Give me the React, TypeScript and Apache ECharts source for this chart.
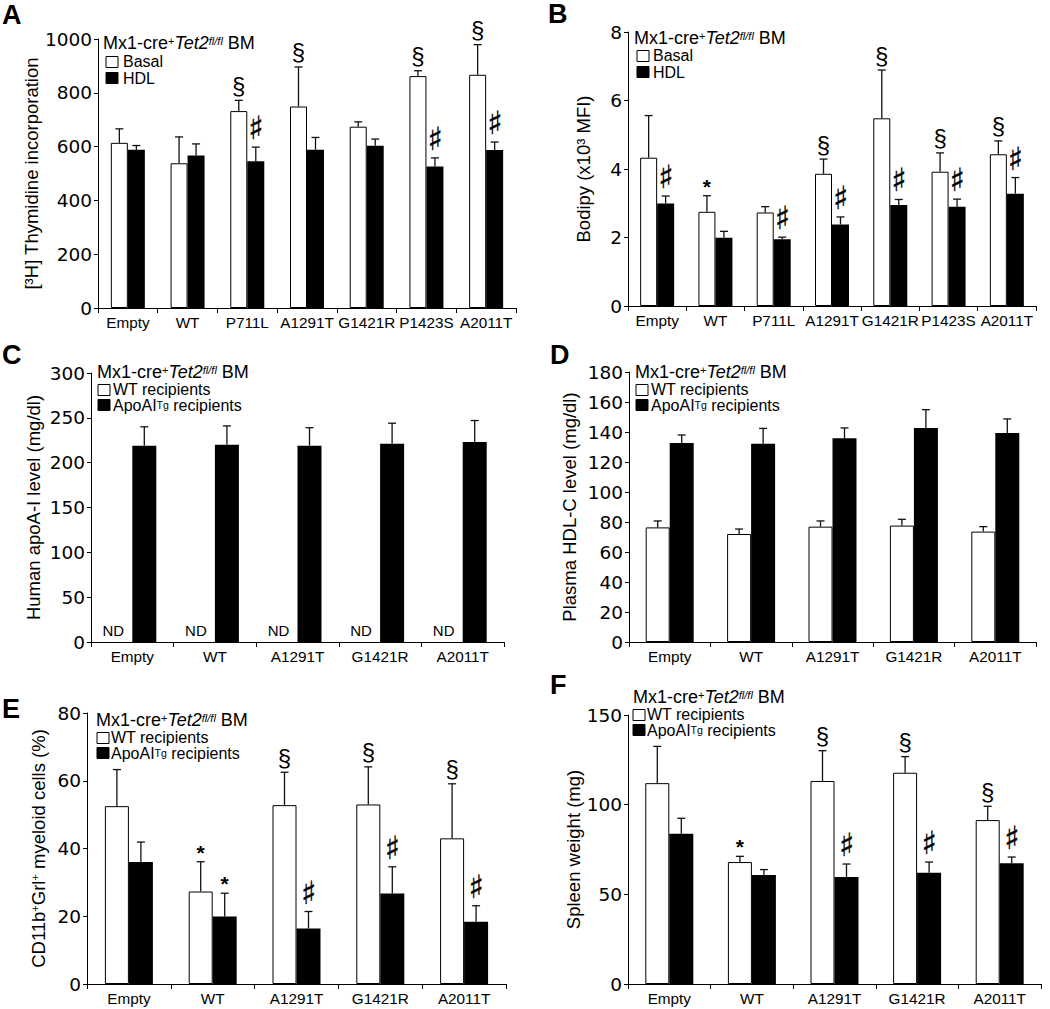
import React, { useEffect, useRef } from "react";
import * as echarts from "echarts";

// ---------- DATA ----------
const catsA = ["Empty", "WT", "P711L", "A1291T", "G1421R", "P1423S", "A2011T"];
const basalA = [614, 538, 732, 749, 674, 862, 867];
const basalSemA = [52, 98, 40, 147, 18, 20, 112];
const hdlA = [588, 567, 546, 588, 603, 526, 587];
const hdlSemA = [16, 43, 52, 46, 25, 32, 30];
const basalMarkA = ["", "", "§", "§", "", "§", "§"];
const hdlMarkA = ["", "", "♯", "", "", "♯", "♯"];

const catsB = ["Empty", "WT", "P711L", "A1291T", "G1421R", "P1423S", "A2011T"];
const basalB = [4.33, 2.75, 2.73, 3.86, 5.48, 3.92, 4.43];
const basalSemB = [1.23, 0.47, 0.17, 0.43, 1.41, 0.55, 0.39];
const hdlB = [2.99, 1.99, 1.95, 2.38, 2.95, 2.9, 3.28];
const hdlSemB = [0.22, 0.19, 0.06, 0.22, 0.16, 0.22, 0.47];
const basalMarkB = ["", "*", "", "§", "§", "§", "§"];
const hdlMarkB = ["♯", "", "♯", "♯", "♯", "♯", "♯"];

const cats5 = ["Empty", "WT", "A1291T", "G1421R", "A2011T"];

const wtC = [0, 0, 0, 0, 0]; // not detected (ND)
const apoC = [219, 220, 219, 221, 223];
const apoSemC = [21, 21, 20, 23, 24];

const wtD = [76.4, 72, 76.9, 77.6, 73.6];
const wtSemD = [4.3, 3.3, 3.8, 4.2, 3.3];
const apoD = [132.7, 132.2, 135.8, 142.7, 139.3];
const apoSemD = [5.3, 10.2, 6.9, 12.2, 9.4];

const wtE = [52.5, 27.3, 52.8, 53, 43];
const wtSemE = [10.8, 8.8, 9.7, 11.1, 16.1];
const apoE = [36, 19.9, 16.4, 26.7, 18.4];
const apoSemE = [5.9, 6.9, 5, 7.9, 4.7];
const wtMarkE = ["", "*", "§", "§", "§"];
const apoMarkE = ["", "*", "♯", "♯", "♯"];

const wtF = [112, 68, 113.2, 117.8, 91.4];
const wtSemF = [20.5, 3.2, 16.9, 9, 7.7];
const apoF = [83.8, 60.8, 59.7, 62.1, 67.3];
const apoSemF = [8.6, 3, 7.2, 5.9, 3.5];
const wtMarkF = ["", "*", "§", "§", "§"];
const apoMarkF = ["", "", "♯", "♯", "♯"];

const yMaxA = 1000, yStepA = 200;
const yMaxB = 8, yStepB = 2;
const yMaxC = 300, yStepC = 50;
const yMaxD = 180, yStepD = 20;
const yMaxE = 80, yStepE = 20;
const yMaxF = 150, yStepF = 50;

// ---------- STYLE ----------
const FF = "'Liberation Sans', Arial, Helvetica, sans-serif";
const FD = "'DejaVu Sans', sans-serif";

const markFont: Record<string, any> = {
  "§": { fontSize: 24, fontFamily: FF, fontWeight: "normal", gap: 3 },
  "♯": { fontSize: 32, fontFamily: "'DejaVu Sans'", fontWeight: "normal", gap: 3 },
  "*": { fontSize: 21, fontFamily: FF, fontWeight: "bold", gap: -1 },
};

type S = { vals: number[]; sem?: number[]; marks?: string[]; fill: string; nd?: boolean };
type P = {
  grid: any; cats: string[]; yMax: number; yStep: number; name: string;
  nameGap: number; barW: number; series: S[];
};

const panels: P[] = [
  {
    grid: { left: 98, top: 39, width: 418, height: 269 }, cats: catsA, yMax: yMaxA, yStep: yStepA,
    name: "[³H] Thymidine incorporation", nameGap: 55, barW: 17,
    series: [
      { vals: basalA, sem: basalSemA, marks: basalMarkA, fill: "#fff" },
      { vals: hdlA, sem: hdlSemA, marks: hdlMarkA, fill: "#000" },
    ],
  },
  {
    grid: { left: 628, top: 32, width: 408, height: 274 }, cats: catsB, yMax: yMaxB, yStep: yStepB,
    name: "Bodipy (x10³ MFI)", nameGap: 35, barW: 17,
    series: [
      { vals: basalB, sem: basalSemB, marks: basalMarkB, fill: "#fff" },
      { vals: hdlB, sem: hdlSemB, marks: hdlMarkB, fill: "#000" },
    ],
  },
  {
    grid: { left: 91, top: 373, width: 413, height: 269 }, cats: cats5, yMax: yMaxC, yStep: yStepC,
    name: "Human apoA-I level (mg/dl)", nameGap: 48, barW: 24,
    series: [
      { vals: wtC, fill: "#fff", nd: true },
      { vals: apoC, sem: apoSemC, fill: "#000" },
    ],
  },
  {
    grid: { left: 629, top: 372, width: 407, height: 270 }, cats: cats5, yMax: yMaxD, yStep: yStepD,
    name: "Plasma HDL-C level (mg/dl)", nameGap: 50, barW: 24,
    series: [
      { vals: wtD, sem: wtSemD, fill: "#fff" },
      { vals: apoD, sem: apoSemD, fill: "#000" },
    ],
  },
  {
    grid: { left: 87, top: 713, width: 419, height: 271 }, cats: cats5, yMax: yMaxE, yStep: yStepE,
    name: "{a|CD11b}{s|+}{a|Grl}{s|+}{a| myeloid cells (%)}", nameGap: 39, barW: 24,
    series: [
      { vals: wtE, sem: wtSemE, marks: wtMarkE, fill: "#fff" },
      { vals: apoE, sem: apoSemE, marks: apoMarkE, fill: "#000" },
    ],
  },
  {
    grid: { left: 628, top: 715, width: 413, height: 269 }, cats: cats5, yMax: yMaxF, yStep: yStepF,
    name: "Spleen weight (mg)", nameGap: 45, barW: 24,
    series: [
      { vals: wtF, sem: wtSemF, marks: wtMarkF, fill: "#fff" },
      { vals: apoF, sem: apoSemF, marks: apoMarkF, fill: "#000" },
    ],
  },
];

function errorSeries(gi: number, s: S, off: number) {
  const sem = s.sem as number[];
  return {
    type: "custom",
    xAxisIndex: gi,
    yAxisIndex: gi,
    z: 5,
    clip: false,
    silent: true,
    data: s.vals.map((v, i) => [i, v, v + sem[i]]),
    encode: { x: 0, y: [1, 2] },
    renderItem: (params: any, api: any) => {
      const i = api.value(0);
      const v = api.value(1);
      const t = api.value(2);
      const pb = api.coord([i, v]);
      const pt = api.coord([i, t]);
      const x = pb[0] + off;
      const ls = { stroke: "#111", lineWidth: 1.3 };
      const children: any[] = [
        { type: "line", shape: { x1: x, y1: pb[1], x2: x, y2: pt[1] }, style: ls },
        { type: "line", shape: { x1: x - 4, y1: pt[1], x2: x + 4, y2: pt[1] }, style: ls },
      ];
      const m = s.marks ? s.marks[params.dataIndex] : "";
      if (m) {
        const mf = markFont[m];
        const st: any = {
          text: m,
          fontSize: mf.fontSize, fontFamily: mf.fontFamily, fontWeight: mf.fontWeight,
          fill: "#000", align: "center", verticalAlign: "bottom",
        };
        if (m === "♯") { st.stroke = "#000"; st.lineWidth = 0.4; }
        children.push({ type: "text", x, y: pt[1] - mf.gap, style: st });
      }
      return { type: "group", children };
    },
  };
}

const titleRich = {
  a: { fontSize: 18, lineHeight: 16, fontFamily: FF, fill: "#000", color: "#000" },
  i: { fontSize: 18, lineHeight: 16, fontFamily: FF, fontStyle: "italic", fill: "#000", color: "#000" },
  s: { fontSize: 11, lineHeight: 16, fontFamily: FF, verticalAlign: "top", fill: "#000", color: "#000" },
  si: { fontSize: 11, lineHeight: 16, fontFamily: FF, fontStyle: "italic", verticalAlign: "top", fill: "#000", color: "#000" },
};
const labRich = {
  a: { fontSize: 16, lineHeight: 13, fontFamily: FF, fill: "#000", color: "#000" },
  s: { fontSize: 10.5, lineHeight: 4, fontFamily: FF, verticalAlign: "top", fill: "#000", color: "#000" },
};

const TITLE = "{a|Mx1-cre}{s|+}{i|Tet2}{si|fl/fl}{a| BM}";

function legend(x: number, yt: number, sx: number, y1: number, y2: number, lx: number, l1: string, l2: string) {
  return [
    { type: "text", x, y: yt, style: { text: TITLE, rich: titleRich, verticalAlign: "middle", fill: "#000" } },
    { type: "rect", shape: { x: sx, y: y1 - 5.5, width: 12, height: 11 }, style: { fill: "#fff", stroke: "#000", lineWidth: 1 } },
    { type: "rect", shape: { x: sx, y: y2 - 5.5, width: 12, height: 11 }, style: { fill: "#000", stroke: "#000", lineWidth: 1 } },
    { type: "text", x: lx, y: y1 - 0.5, style: { text: l1, rich: labRich, verticalAlign: "middle", fill: "#000" } },
    { type: "text", x: lx, y: y2 + 0.5, style: { text: l2, rich: labRich, verticalAlign: "middle", fill: "#000" } },
  ];
}

function letter(t: string, x: number, y: number) {
  return {
    type: "text", x, y,
    style: { text: t, fontSize: 27, fontWeight: "bold", fontFamily: FF, fill: "#000", verticalAlign: "top" },
  };
}

function buildOption() {
  const grid: any[] = [], xAxis: any[] = [], yAxis: any[] = [], series: any[] = [];
  panels.forEach((p, gi) => {
    grid.push({ ...p.grid, containLabel: false });
    xAxis.push({
      type: "category", gridIndex: gi, data: p.cats,
      axisLine: { lineStyle: { color: "#000", width: 1 } },
      axisTick: { show: true, length: 5, lineStyle: { color: "#000" } },
      axisLabel: { interval: 0, color: "#000", fontSize: 15.3, fontFamily: FF, margin: 7, hideOverlap: false },
      splitLine: { show: false },
    });
    yAxis.push({
      type: "value", gridIndex: gi, min: 0, max: p.yMax, interval: p.yStep,
      name: p.name, nameLocation: "middle", nameGap: p.nameGap,
      nameTextStyle: {
        fontSize: 18.5, fontFamily: FF, color: "#000",
        rich: {
          a: { fontSize: 18.5, fontFamily: FF, color: "#000" },
          s: { fontSize: 11, fontFamily: FF, color: "#000", verticalAlign: "top" },
        },
      },
      axisLine: { show: true, lineStyle: { color: "#000", width: 1 } },
      axisTick: { show: true, length: 4, lineStyle: { color: "#000" } },
      axisLabel: { color: "#000", fontSize: 18.5, fontFamily: FD, margin: 6, formatter: (v: number) => String(v) },
      splitLine: { show: false },
    });
    p.series.forEach((s, si) => {
      const off = (si === 0 ? -1 : 1) * (p.barW / 2);
      series.push({
        type: "bar", xAxisIndex: gi, yAxisIndex: gi, data: s.vals,
        barWidth: p.barW, barGap: "0%", silent: true,
        itemStyle: s.nd
          ? { color: "rgba(0,0,0,0)", borderWidth: 0 }
          : { color: s.fill, borderColor: "#000", borderWidth: s.fill === "#fff" ? 1 : 0 },
        label: s.nd
          ? { show: true, position: "top", formatter: "ND", distance: 4, offset: [-7, 0], color: "#000", fontSize: 15, fontFamily: FF }
          : { show: false },
      });
      if (s.sem) series.push(errorSeries(gi, s, off));
    });
  });

  const graphic: any[] = [
    letter("A", 2, 1), letter("B", 548, 0), letter("C", 2, 341),
    letter("D", 550, 341), letter("E", 2, 695), letter("F", 550, 671),
    ...legend(103, 43, 106, 62, 78, 123, "{a|Basal}", "{a|HDL}"),
    ...legend(634, 38, 637, 56, 72, 653, "{a|Basal}", "{a|HDL}"),
    ...legend(97, 372, 98, 390, 405, 113, "{a|WT recipients}", "{a|ApoAI}{s|Tg}{a| recipients}"),
    ...legend(635, 372, 636, 390, 405, 651, "{a|WT recipients}", "{a|ApoAI}{s|Tg}{a| recipients}"),
    ...legend(96, 720, 97, 738, 753, 111, "{a|WT recipients}", "{a|ApoAI}{s|Tg}{a| recipients}"),
    ...legend(633, 697, 633, 715, 730, 647, "{a|WT recipients}", "{a|ApoAI}{s|Tg}{a| recipients}"),
  ];

  return {
    animation: false,
    backgroundColor: "#fff",
    grid, xAxis, yAxis, series, graphic,
  };
}

export default function App() {
  const ref = useRef<HTMLDivElement>(null);
  useEffect(() => {
    const chart = echarts.init(ref.current as HTMLDivElement, null, { renderer: "svg" });
    chart.setOption(buildOption() as any);
    return () => chart.dispose();
  }, []);
  return (
    <div
      ref={ref}
      style={{ position: "absolute", left: 0, top: 0, width: 1050, height: 1009, background: "#fff" }}
    />
  );
}
